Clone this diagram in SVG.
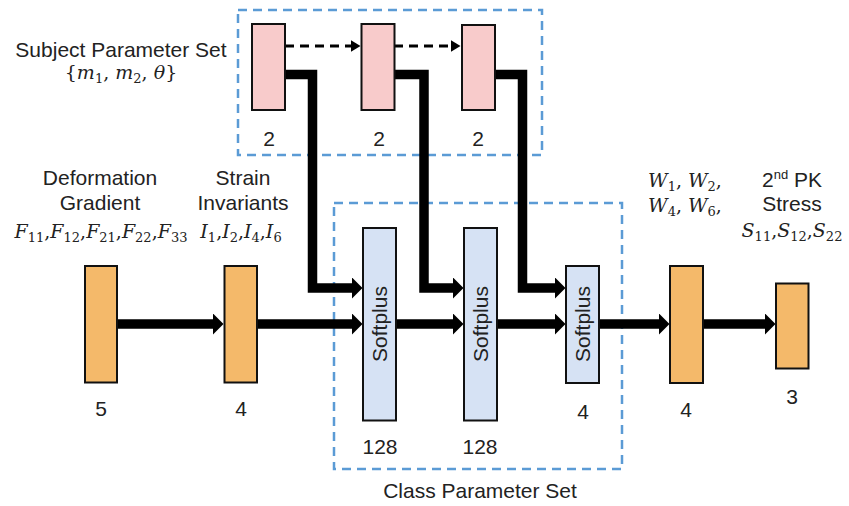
<svg xmlns="http://www.w3.org/2000/svg" width="849" height="506" viewBox="0 0 849 506">
<style>
.lbl{font-family:"Liberation Sans",Arial,sans-serif;font-size:21px;fill:#222;text-anchor:middle}
.math{font-family:"DejaVu Serif","Liberation Serif",serif;font-size:19px;fill:#222;text-anchor:middle}
.mi{font-style:italic}
.sub{font-size:13px}
.pink{fill:#F8CBCB;stroke:#111;stroke-width:2}
.orange{fill:#F4B96A;stroke:#111;stroke-width:2}
.blue{fill:#D6E2F4;stroke:#111;stroke-width:2}
.group{fill:none;stroke:#5B9BD5;stroke-width:2.5;stroke-dasharray:9 6}
.thick{fill:none;stroke:#000;stroke-width:9.5;stroke-linejoin:miter}
.dash{fill:none;stroke:#000;stroke-width:3;stroke-dasharray:9 6}
</style>
<defs>
<marker id="ah" markerUnits="userSpaceOnUse" markerWidth="11" markerHeight="22" viewBox="0 0 11 22" refX="0.5" refY="11" orient="auto"><path d="M0,0 L11,11 L0,22 Z" fill="#000"/></marker>
<marker id="ahs" markerUnits="userSpaceOnUse" markerWidth="10" markerHeight="12" viewBox="0 0 10 12" refX="0.5" refY="6" orient="auto"><path d="M0,0 L10,6 L0,12 Z" fill="#000"/></marker>
</defs>

<rect class="group" x="238" y="10" width="304" height="145"/>
<rect class="group" x="334" y="203" width="288" height="266"/>

<g id="connectors">
<path class="dash" d="M285,46 H351" marker-end="url(#ahs)"/>
<path class="dash" d="M394,46 H451" marker-end="url(#ahs)"/>
<path class="thick" d="M285,74.5 H312.5 V288 H352" marker-end="url(#ah)"/>
<path class="thick" d="M394,74.5 H424 V288 H453" marker-end="url(#ah)"/>
<path class="thick" d="M495,74.5 H522.5 V288 H555" marker-end="url(#ah)"/>
<path class="thick" d="M117,324 H213" marker-end="url(#ah)"/>
<path class="thick" d="M257,324 H352" marker-end="url(#ah)"/>
<path class="thick" d="M396,324 H453" marker-end="url(#ah)"/>
<path class="thick" d="M497,324 H555" marker-end="url(#ah)"/>
<path class="thick" d="M599,324 H659" marker-end="url(#ah)"/>
<path class="thick" d="M703,324 H765" marker-end="url(#ah)"/>
</g>

<g id="subject-label">
<text class="lbl" x="121" y="57">Subject Parameter Set</text>
<text class="math" x="121" y="79">{<tspan class="mi">m</tspan><tspan class="sub" dy="4">1</tspan><tspan dy="-4">, </tspan><tspan class="mi">m</tspan><tspan class="sub" dy="4">2</tspan><tspan dy="-4">, </tspan><tspan class="mi">θ</tspan>}</text>
</g>

<g id="subject1"><rect class="pink" x="252" y="24" width="33" height="86"/><text class="lbl" x="269" y="146">2</text></g>
<g id="subject2"><rect class="pink" x="361.5" y="24" width="33" height="86"/><text class="lbl" x="379" y="146">2</text></g>
<g id="subject3"><rect class="pink" x="462" y="25" width="33" height="85"/><text class="lbl" x="478" y="146">2</text></g>

<g id="deformation">
<text class="lbl" x="100" y="185">Deformation</text>
<text class="lbl" x="100" y="210">Gradient</text>
<text class="math" x="101" y="238"><tspan class="mi">F</tspan><tspan class="sub" dy="4">11</tspan><tspan dy="-4">,</tspan><tspan class="mi">F</tspan><tspan class="sub" dy="4">12</tspan><tspan dy="-4">,</tspan><tspan class="mi">F</tspan><tspan class="sub" dy="4">21</tspan><tspan dy="-4">,</tspan><tspan class="mi">F</tspan><tspan class="sub" dy="4">22</tspan><tspan dy="-4">,</tspan><tspan class="mi">F</tspan><tspan class="sub" dy="4">33</tspan></text>
<rect class="orange" x="85" y="266" width="32" height="116.5"/>
<text class="lbl" x="101" y="416">5</text>
</g>

<g id="invariants">
<text class="lbl" x="243" y="185">Strain</text>
<text class="lbl" x="243" y="210">Invariants</text>
<text class="math" x="241" y="238"><tspan class="mi">I</tspan><tspan class="sub" dy="4">1</tspan><tspan dy="-4">,</tspan><tspan class="mi">I</tspan><tspan class="sub" dy="4">2</tspan><tspan dy="-4">,</tspan><tspan class="mi">I</tspan><tspan class="sub" dy="4">4</tspan><tspan dy="-4">,</tspan><tspan class="mi">I</tspan><tspan class="sub" dy="4">6</tspan></text>
<rect class="orange" x="224.5" y="266" width="32.5" height="116.5"/>
<text class="lbl" x="241" y="416">4</text>
</g>

<g id="softplus1">
<rect class="blue" x="363" y="228" width="33" height="192.5"/>
<text class="lbl" transform="translate(387,324) rotate(-90)" x="0" y="0">Softplus</text>
<text class="lbl" x="380" y="454">128</text>
</g>
<g id="softplus2">
<rect class="blue" x="464" y="228" width="33" height="192.5"/>
<text class="lbl" transform="translate(488,324) rotate(-90)" x="0" y="0">Softplus</text>
<text class="lbl" x="480" y="454">128</text>
</g>
<g id="softplus3">
<rect class="blue" x="566" y="266" width="33" height="117"/>
<text class="lbl" transform="translate(590,324) rotate(-90)" x="0" y="0">Softplus</text>
<text class="lbl" x="583" y="419">4</text>
</g>

<g id="class-label"><text class="lbl" x="480" y="498">Class Parameter Set</text></g>

<g id="energy">
<text class="math" x="685" y="187"><tspan class="mi">W</tspan><tspan class="sub" dy="4">1</tspan><tspan dy="-4">, </tspan><tspan class="mi">W</tspan><tspan class="sub" dy="4">2</tspan><tspan dy="-4">,</tspan></text>
<text class="math" x="685" y="212"><tspan class="mi">W</tspan><tspan class="sub" dy="4">4</tspan><tspan dy="-4">, </tspan><tspan class="mi">W</tspan><tspan class="sub" dy="4">6</tspan><tspan dy="-4">,</tspan></text>
<rect class="orange" x="670" y="266" width="33" height="117"/>
<text class="lbl" x="686" y="417">4</text>
</g>

<g id="stress">
<text class="lbl" x="792" y="187">2<tspan font-size="13" dy="-8">nd</tspan><tspan dy="8"> PK</tspan></text>
<text class="lbl" x="792" y="211">Stress</text>
<text class="math" x="792" y="237"><tspan class="mi">S</tspan><tspan class="sub" dy="4">11</tspan><tspan dy="-4">,</tspan><tspan class="mi">S</tspan><tspan class="sub" dy="4">12</tspan><tspan dy="-4">,</tspan><tspan class="mi">S</tspan><tspan class="sub" dy="4">22</tspan></text>
<rect class="orange" x="776" y="283.5" width="32.5" height="85"/>
<text class="lbl" x="792" y="404">3</text>
</g>
</svg>
